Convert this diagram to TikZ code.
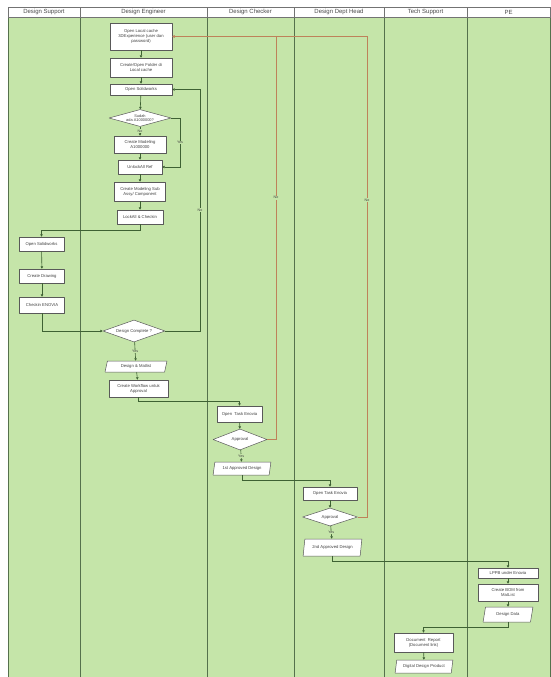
\documentclass[tikz,border=0pt]{standalone}
\usepackage{fontspec}
\setmainfont{Liberation Sans}
\usepackage{tikz}
\usetikzlibrary{arrows.meta, calc, shapes.geometric}

\definecolor{lanegreen}{HTML}{C5E5A9}
\definecolor{laneline}{HTML}{55714C}
\definecolor{flowline}{HTML}{3E6133}
\definecolor{rejectline}{HTML}{BE825A}
\definecolor{headtext}{HTML}{4A4A4A}

\begin{document}
\begin{tikzpicture}[x=1pt, y=-1pt,
    box/.style={draw=black!65, fill=white, line width=0.5pt, line join=round, inner sep=0pt,
        align=center, font=\fontsize{4.2}{5}\selectfont, text=black!75},
    decision/.style={box, diamond, aspect=4},
    datanode/.style={box, trapezium, trapezium left angle=72, trapezium right angle=108,
        trapezium stretches=true},
    flow/.style={draw=flowline, line width=0.6pt, -{Triangle[length=2.4pt, width=2.4pt]}},
    reject/.style={flow, draw=rejectline, -{Triangle[length=2.4pt, width=2.4pt, fill=rejectline]}},
    lbl/.style={fill=lanegreen, inner sep=0.6pt, font=\fontsize{3.6}{4}\selectfont, text=black!75}]
    \useasboundingbox (0,0) rectangle (551,677);

    % --- SWIMLANES ---
    \foreach \xl/\xr/\lane in {8/80/Design Support, 80/207/Design Engineer, 207/294/Design Checker,
        294/384/Design Dept Head, 384/467/Tech Support, 467/550/PE} {
        \draw[laneline, line width=0.6pt, fill=lanegreen] (\xl,17.5) rectangle (\xr,677);
        \draw[black!55, line width=0.5pt, fill=white] (\xl,7) rectangle (\xr,17.5);
        \node[text=headtext, font=\fontsize{6}{7}\selectfont] at ({(\xl+\xr)/2},12.2) {\lane};
    }

    % --- DESIGN ENGINEER ---
    \node[box, minimum width=62, minimum height=27] (cache) at (141,36.5)
        {Open Local cache\\3DExperience (user dan\\password)};
    \node[box, minimum width=62, minimum height=19] (folder) at (141,67.5)
        {Create/Open Folder di\\Local cache};
    \node[box, minimum width=62, minimum height=11] (solidA) at (141,89.5) {Open Solidworks};
    \node[decision, minimum width=62, minimum height=17, font=\fontsize{3.9}{4.3}\selectfont]
        (exist) at (140,118) {Sudah\\ada A1000000?};
    \node[box, minimum width=52, minimum height=17] (model) at (140,144.5)
        {Create Modeling\\A1000000};
    \node[box, minimum width=44, minimum height=14] (unlock) at (140,167) {UnlockAll Ref};
    \node[box, minimum width=51, minimum height=19] (subassy) at (140,191.5)
        {Create Modeling Sub\\Assy/ Component};
    \node[box, minimum width=46, minimum height=14] (lock) at (140,217) {LockAll \& Checkin};
    \node[decision, minimum width=62, minimum height=22] (complete) at (134,331) {Design Complete ?};
    \node[datanode, minimum width=62, minimum height=11] (matlist) at (136,366.5) {Design \& Matlist};
    \node[box, minimum width=59, minimum height=17] (workflow) at (138.5,388.5)
        {Create Workflow untuk\\Approval};

    % --- DESIGN SUPPORT ---
    \node[box, minimum width=45, minimum height=14] (solidB) at (41.5,244) {Open Solidworks};
    \node[box, minimum width=45, minimum height=14] (drawing) at (42,276) {Create Drawing};
    \node[box, minimum width=45, minimum height=16] (checkin) at (42,305) {Checkin ENOVIA};

    % --- DESIGN CHECKER ---
    \node[box, minimum width=45, minimum height=16] (taskA) at (239.5,414) {Open\ \ Task Enovia};
    \node[decision, minimum width=54, minimum height=21] (apprA) at (240,439.5) {Approval};
    \node[datanode, minimum width=58, minimum height=13] (firstok) at (242,468.5) {1st Approved Design};

    % --- DESIGN DEPT HEAD ---
    \node[box, minimum width=54, minimum height=13] (taskB) at (330,493.5) {Open Task Enovia};
    \node[decision, minimum width=55, minimum height=18] (apprB) at (330,517) {Approval};
    \node[datanode, minimum width=59, minimum height=17] (secondok) at (332.5,547.5) {2nd Approved Design};

    % --- PE ---
    \node[box, minimum width=60, minimum height=10] (lppb) at (508,573) {LPPB under Enovia};
    \node[box, minimum width=60, minimum height=17] (bom) at (508,592.5) {Create BOM from\\MatList};
    \node[datanode, minimum width=50, minimum height=15] (ddata) at (508,614.5) {Design Data};

    % --- TECH SUPPORT ---
    \node[box, minimum width=59, minimum height=19] (report) at (423.5,642.5)
        {Document\ \ Report\\(Document link)};
    \node[datanode, minimum width=58, minimum height=13] (product) at (424,666.5) {Digital Design Product};

    % --- TURN POINTS ---
    \coordinate (yesturn) at (180,118);
    \coordinate (dcturn) at (200,331);
    \coordinate (rejA) at (276,36.5);
    \coordinate (rejB) at (367,36.5);

    % --- CONNECTORS ---
    \draw[flow] (cache) -- (folder);
    \draw[flow] (folder) -- (solidA);
    \draw[flow] (solidA) -- (exist);
    \draw[flow] (exist) -- node[lbl] {No} (model);
    \draw[flow] (exist.east) -- (yesturn) |- node[lbl, pos=0.25] {Yes} (unlock.east);
    \draw[flow] (model) -- (unlock);
    \draw[flow] (unlock) -- (subassy);
    \draw[flow] (subassy) -- (lock);
    \draw[flow] (lock.south) -- ++(0,6) -| (solidB.north);
    \draw[flow] (solidB) -- (drawing);
    \draw[flow] (drawing) -- (checkin);
    \draw[flow] (checkin.south) |- (complete.west);
    \draw[flow] (complete.east) -- (dcturn) |- node[lbl, pos=0.25] {No} (solidA.east);
    \draw[flow] (complete) -- node[lbl] {Yes} (matlist);
    \draw[flow] (matlist) -- (workflow);
    \draw[flow] (workflow.south) -- ++(0,4) -| (taskA.north);
    \draw[flow] (taskA) -- (apprA);
    \draw[flow] (apprA) -- node[lbl] {Yes} (firstok);
    \draw[reject] (apprA.east) -| node[lbl, pos=0.8] {No} (rejA) -- (cache.east);
    \draw[flow] (firstok.south) -- ++(0,5) -| (taskB.north);
    \draw[flow] (taskB) -- (apprB);
    \draw[flow] (apprB) -- node[lbl] {Yes} (secondok);
    \draw[reject] (apprB.east) -| node[lbl, pos=0.83] {No} (rejB) -- (cache.east);
    \draw[flow] (secondok.south) -- ++(0,5) -| (lppb.north);
    \draw[flow] (lppb) -- (bom);
    \draw[flow] (bom) -- (ddata);
    \draw[flow] (ddata.south) -- ++(0,5) -| (report.north);
    \draw[flow] (report) -- (product);
\end{tikzpicture}
\end{document}
